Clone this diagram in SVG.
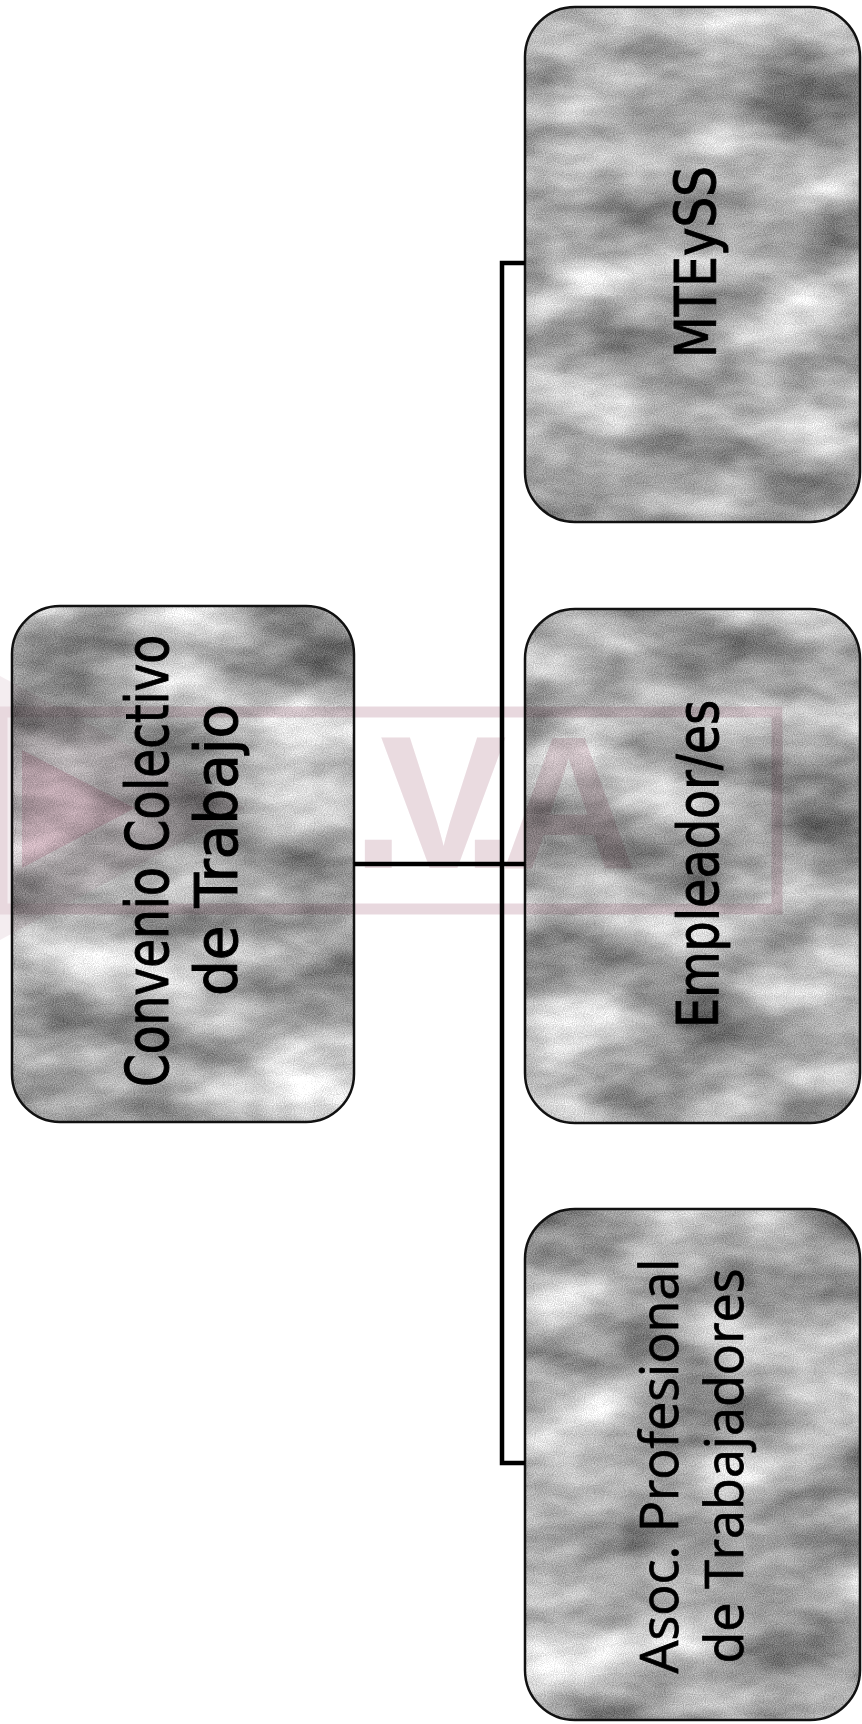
<svg xmlns="http://www.w3.org/2000/svg" width="862" height="1724" viewBox="0 0 862 1724">
  <defs>
    <filter id="marble" x="0" y="0" width="1" height="1" color-interpolation-filters="sRGB">
      <feTurbulence type="fractalNoise" baseFrequency="0.008 0.016" numOctaves="4" seed="11" result="n"/>
      <feColorMatrix in="n" type="matrix" values="0.9 0 0 0 0.02  0.9 0 0 0 0.02  0.9 0 0 0 0.02  0 0 0 0 1" result="g"/>
      <feTurbulence type="fractalNoise" baseFrequency="0.9" numOctaves="1" seed="3" result="f"/>
      <feColorMatrix in="f" type="matrix" values="0.4 0 0 0 0  0.4 0 0 0 0  0.4 0 0 0 0  0 0 0 0 1" result="fg"/>
      <feComposite in="g" in2="fg" operator="arithmetic" k1="0" k2="1" k3="1" k4="0" result="t"/>
      <feComposite in="t" in2="SourceAlpha" operator="in"/>
    </filter>
  </defs>
  <style>
    .tex { fill: #a8a8a8; filter: url(#marble); }
    .box { fill: none; stroke: #111; stroke-width: 2.5; }
    .lbl { fill: #000; stroke: #000; stroke-width: 1; font-family: "DejaVu Sans Condensed", "DejaVu Sans", sans-serif; text-anchor: middle; }
    .lbl2 { fill: #000; stroke: #000; stroke-width: 0.8; font-family: "Open Sans", "Lato", sans-serif; font-weight: 500; text-anchor: middle; }
    .conn { fill: none; stroke: #000; stroke-width: 4.5; }
    .wm { fill: #dfc8d0; }
  </style>
  <rect x="0" y="0" width="862" height="1724" fill="#ffffff"/>

  <g id="node-convenio">
    <rect class="tex" x="12" y="606" width="342" height="516" rx="48"/>
    <rect class="box" x="12" y="606" width="342" height="516" rx="48"/>
    <text class="lbl" font-size="58" textLength="452" lengthAdjust="spacingAndGlyphs" transform="translate(168,861) rotate(-90)">Convenio Colectivo</text>
    <text class="lbl" font-size="58" textLength="292" lengthAdjust="spacingAndGlyphs" transform="translate(237,850) rotate(-90)">de Trabajo</text>
  </g>

  <g id="node-mteyss">
    <rect class="tex" x="525" y="7" width="335" height="515" rx="50"/>
    <rect class="box" x="525" y="7" width="335" height="515" rx="50"/>
    <text class="lbl" font-size="57" textLength="192" lengthAdjust="spacingAndGlyphs" transform="translate(716,262) rotate(-90)">MTEySS</text>
  </g>

  <g id="node-empleadores">
    <rect class="tex" x="525" y="609" width="335" height="514" rx="50"/>
    <rect class="box" x="525" y="609" width="335" height="514" rx="50"/>
    <text class="lbl" font-size="57" textLength="328" lengthAdjust="spacingAndGlyphs" transform="translate(718,864) rotate(-90)">Empleador/es</text>
  </g>

  <g id="node-asoc">
    <rect class="tex" x="525" y="1209" width="335" height="511" rx="50"/>
    <rect class="box" x="525" y="1209" width="335" height="511" rx="50"/>
    <text class="lbl2" font-size="53" textLength="415" lengthAdjust="spacingAndGlyphs" transform="translate(678,1466) rotate(-90)">Asoc. Profesional</text>
    <text class="lbl2" font-size="53" textLength="395" lengthAdjust="spacingAndGlyphs" transform="translate(743,1466) rotate(-90)">de Trabajadores</text>
  </g>

  <g id="connectors">
    <path class="conn" d="M525,263 H502 V1463 H525"/>
    <path class="conn" d="M354,864 H525"/>
  </g>

  <g id="watermark" style="mix-blend-mode:multiply" opacity="0.65">
    <polygon points="0,676 245,808 0,940" fill="#efe3e8"/>
    <polygon points="22,750 135,808 22,868" fill="#d2a9b8"/>
    <rect x="2" y="712" width="775" height="197" fill="none" stroke="#dcc3cc" stroke-width="11"/>
    <text class="wm" x="352 380 462 500" y="868" font-family="Liberation Sans, sans-serif" font-weight="700" font-size="190">.V.A</text>
  </g>
</svg>
